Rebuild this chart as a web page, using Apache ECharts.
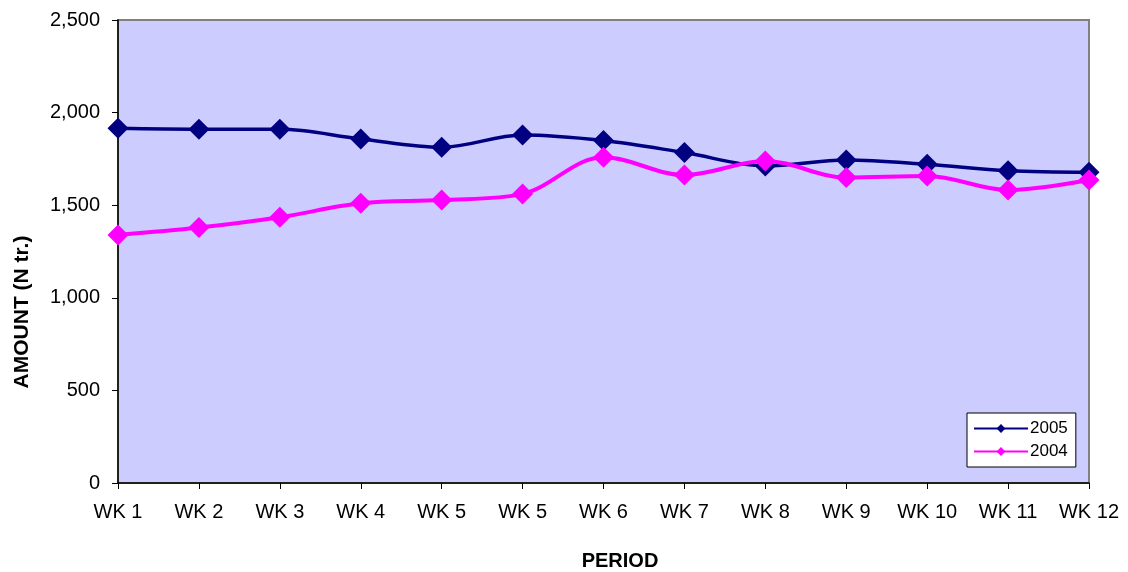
<!DOCTYPE html>
<html>
<head>
<meta charset="utf-8">
<script src="https://cdn.jsdelivr.net/npm/echarts@6/dist/echarts.min.js"></script>
<style>
  html, body { margin: 0; padding: 0; background: #ffffff; }
  #chart { width: 1128px; height: 572px; }
</style>
</head>
<body>
<div id="chart"></div>
<script>
// Weekly amounts, two years side by side
const periods = ['WK 1', 'WK 2', 'WK 3', 'WK 4', 'WK 5', 'WK 5', 'WK 6', 'WK 7', 'WK 8', 'WK 9', 'WK 10', 'WK 11', 'WK 12'];
const amounts2005 = [1915, 1910, 1910, 1858, 1813, 1879, 1849, 1784, 1712, 1744, 1721, 1686, 1678];
const amounts2004 = [1339, 1379, 1435, 1510, 1528, 1561, 1759, 1663, 1739, 1649, 1658, 1582, 1636];
const seriesNames = ['2005', '2004'];

const FONT = '"Liberation Sans", Arial, sans-serif';

const chart = echarts.init(document.getElementById('chart'), null, { renderer: 'canvas' });

function lineSeries(name, values, color, width) {
  return {
    name: name,
    type: 'line',
    data: values,
    smooth: 0.35,
    symbol: 'diamond',
    symbolSize: 21,
    showAllSymbol: true,
    lineStyle: { color: color, width: width },
    itemStyle: { color: color },
    emphasis: { disabled: true },
    animation: false
  };
}

chart.setOption({
  animation: false,
  grid: {
    left: 118, top: 20, width: 971, height: 463,
    show: true,
    backgroundColor: '#CCCCFF',
    borderColor: '#808080',
    borderWidth: 2
  },
  legend: {
    data: seriesNames,
    orient: 'vertical',
    left: 967,
    top: 413,
    padding: [7, 8, 7, 6],
    itemWidth: 54,
    itemHeight: 11,
    itemGap: 6,
    backgroundColor: '#ffffff',
    borderColor: '#000000',
    borderWidth: 1,
    borderRadius: 0,
    textStyle: { fontFamily: FONT, fontSize: 17, color: '#000000', padding: [0, 0, 0, -3] }
  },
  xAxis: {
    type: 'category',
    data: periods,
    boundaryGap: false,
    axisLine: { show: true, lineStyle: { color: '#000000', width: 1.5 } },
    axisTick: { show: true, inside: false, length: 6, lineStyle: { color: '#000000' } },
    axisLabel: {
      interval: 0, margin: 19, color: '#000000',
      fontFamily: FONT, fontSize: 20
    },
    splitLine: { show: false }
  },
  yAxis: {
    type: 'value',
    min: 0, max: 2500, interval: 500,
    axisLine: { show: true, lineStyle: { color: '#000000', width: 1.5 } },
    axisTick: { show: true, inside: false, length: 6, lineStyle: { color: '#000000' } },
    axisLabel: {
      margin: 18, color: '#000000',
      fontFamily: FONT, fontSize: 20,
      formatter: v => v.toLocaleString('en-US')
    },
    splitLine: { show: false }
  },
  graphic: [
    {
      type: 'text',
      x: 22, y: 312,
      rotation: Math.PI / 2,
      style: {
        text: 'AMOUNT (N tr.)',
        fontFamily: FONT, fontSize: 21, fontWeight: 'bold',
        fill: '#000000',
        align: 'center', verticalAlign: 'middle'
      }
    },
    {
      type: 'text',
      x: 620, y: 561,
      style: {
        text: 'PERIOD',
        fontFamily: FONT, fontSize: 20, fontWeight: 'bold',
        fill: '#000000',
        align: 'center', verticalAlign: 'middle'
      }
    }
  ],
  series: [
    lineSeries(seriesNames[0], amounts2005, '#000080', 3.5),
    lineSeries(seriesNames[1], amounts2004, '#FF00FF', 4)
  ]
});
</script>
</body>
</html>
